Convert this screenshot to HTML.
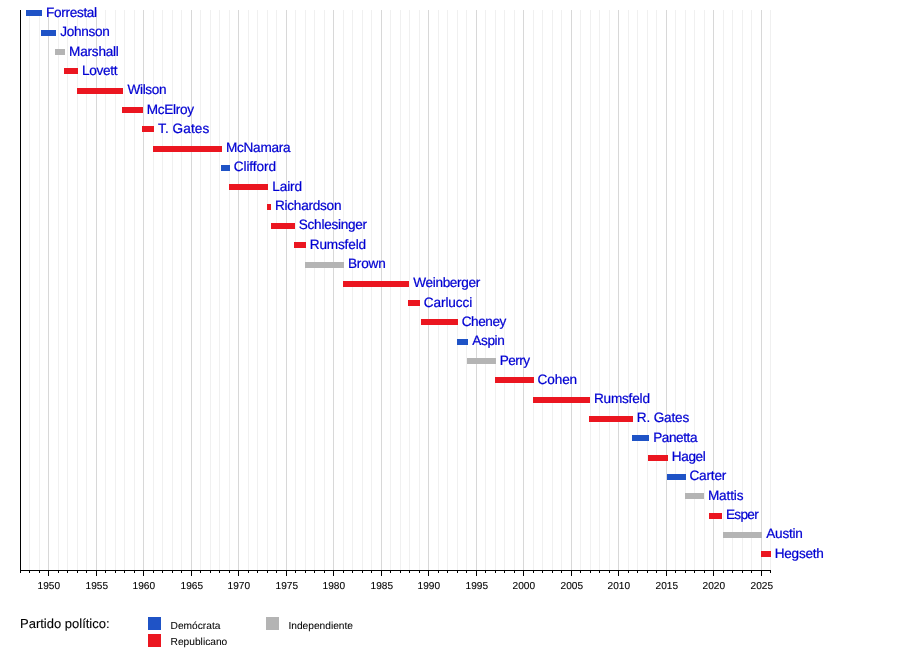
<!DOCTYPE html>
<html><head><meta charset="utf-8"><title>Secretarios de Defensa</title>
<style>
html,body{margin:0;padding:0;background:#fff;}
body{width:900px;height:650px;overflow:hidden;}
svg{display:block;will-change:transform;}
text{font-family:"Liberation Sans",sans-serif;-webkit-font-smoothing:antialiased;text-rendering:geometricPrecision;}
.lb{font-size:13.6px;fill:#0000d2;stroke:#0000d2;stroke-width:0.22;}
.tk{font-size:10.1px;fill:#000000;stroke:#000000;stroke-width:0.1;text-anchor:middle;}
.lg{font-size:10.2px;fill:#000000;stroke:#000000;stroke-width:0.05;}
.lt{font-size:13px;fill:#000000;stroke:#000000;stroke-width:0.1;}
</style></head><body>
<svg width="900" height="650" viewBox="0 0 900 650">
<rect x="0" y="0" width="900" height="650" fill="#ffffff"/>

<g shape-rendering="crispEdges">
<rect x="29" y="10" width="1" height="560" fill="#f0f0f0"/>
<rect x="39" y="10" width="1" height="560" fill="#f0f0f0"/>
<rect x="48" y="10" width="1" height="560" fill="#d8d8d8"/>
<rect x="58" y="10" width="1" height="560" fill="#f0f0f0"/>
<rect x="67" y="10" width="1" height="560" fill="#f0f0f0"/>
<rect x="77" y="10" width="1" height="560" fill="#f0f0f0"/>
<rect x="86" y="10" width="1" height="560" fill="#f0f0f0"/>
<rect x="96" y="10" width="1" height="560" fill="#d8d8d8"/>
<rect x="105" y="10" width="1" height="560" fill="#f0f0f0"/>
<rect x="115" y="10" width="1" height="560" fill="#f0f0f0"/>
<rect x="124" y="10" width="1" height="560" fill="#f0f0f0"/>
<rect x="134" y="10" width="1" height="560" fill="#f0f0f0"/>
<rect x="143" y="10" width="1" height="560" fill="#d8d8d8"/>
<rect x="153" y="10" width="1" height="560" fill="#f0f0f0"/>
<rect x="162" y="10" width="1" height="560" fill="#f0f0f0"/>
<rect x="172" y="10" width="1" height="560" fill="#f0f0f0"/>
<rect x="181" y="10" width="1" height="560" fill="#f0f0f0"/>
<rect x="191" y="10" width="1" height="560" fill="#d8d8d8"/>
<rect x="200" y="10" width="1" height="560" fill="#f0f0f0"/>
<rect x="210" y="10" width="1" height="560" fill="#f0f0f0"/>
<rect x="219" y="10" width="1" height="560" fill="#f0f0f0"/>
<rect x="229" y="10" width="1" height="560" fill="#f0f0f0"/>
<rect x="238" y="10" width="1" height="560" fill="#d8d8d8"/>
<rect x="248" y="10" width="1" height="560" fill="#f0f0f0"/>
<rect x="257" y="10" width="1" height="560" fill="#f0f0f0"/>
<rect x="267" y="10" width="1" height="560" fill="#f0f0f0"/>
<rect x="276" y="10" width="1" height="560" fill="#f0f0f0"/>
<rect x="286" y="10" width="1" height="560" fill="#d8d8d8"/>
<rect x="295" y="10" width="1" height="560" fill="#f0f0f0"/>
<rect x="305" y="10" width="1" height="560" fill="#f0f0f0"/>
<rect x="314" y="10" width="1" height="560" fill="#f0f0f0"/>
<rect x="324" y="10" width="1" height="560" fill="#f0f0f0"/>
<rect x="333" y="10" width="1" height="560" fill="#d8d8d8"/>
<rect x="343" y="10" width="1" height="560" fill="#f0f0f0"/>
<rect x="352" y="10" width="1" height="560" fill="#f0f0f0"/>
<rect x="362" y="10" width="1" height="560" fill="#f0f0f0"/>
<rect x="371" y="10" width="1" height="560" fill="#f0f0f0"/>
<rect x="381" y="10" width="1" height="560" fill="#d8d8d8"/>
<rect x="390" y="10" width="1" height="560" fill="#f0f0f0"/>
<rect x="400" y="10" width="1" height="560" fill="#f0f0f0"/>
<rect x="409" y="10" width="1" height="560" fill="#f0f0f0"/>
<rect x="419" y="10" width="1" height="560" fill="#f0f0f0"/>
<rect x="428" y="10" width="1" height="560" fill="#d8d8d8"/>
<rect x="438" y="10" width="1" height="560" fill="#f0f0f0"/>
<rect x="447" y="10" width="1" height="560" fill="#f0f0f0"/>
<rect x="457" y="10" width="1" height="560" fill="#f0f0f0"/>
<rect x="466" y="10" width="1" height="560" fill="#f0f0f0"/>
<rect x="476" y="10" width="1" height="560" fill="#d8d8d8"/>
<rect x="485" y="10" width="1" height="560" fill="#f0f0f0"/>
<rect x="495" y="10" width="1" height="560" fill="#f0f0f0"/>
<rect x="504" y="10" width="1" height="560" fill="#f0f0f0"/>
<rect x="514" y="10" width="1" height="560" fill="#f0f0f0"/>
<rect x="523" y="10" width="1" height="560" fill="#d8d8d8"/>
<rect x="533" y="10" width="1" height="560" fill="#f0f0f0"/>
<rect x="542" y="10" width="1" height="560" fill="#f0f0f0"/>
<rect x="552" y="10" width="1" height="560" fill="#f0f0f0"/>
<rect x="561" y="10" width="1" height="560" fill="#f0f0f0"/>
<rect x="571" y="10" width="1" height="560" fill="#d8d8d8"/>
<rect x="580" y="10" width="1" height="560" fill="#f0f0f0"/>
<rect x="590" y="10" width="1" height="560" fill="#f0f0f0"/>
<rect x="599" y="10" width="1" height="560" fill="#f0f0f0"/>
<rect x="609" y="10" width="1" height="560" fill="#f0f0f0"/>
<rect x="618" y="10" width="1" height="560" fill="#d8d8d8"/>
<rect x="628" y="10" width="1" height="560" fill="#f0f0f0"/>
<rect x="637" y="10" width="1" height="560" fill="#f0f0f0"/>
<rect x="647" y="10" width="1" height="560" fill="#f0f0f0"/>
<rect x="656" y="10" width="1" height="560" fill="#f0f0f0"/>
<rect x="666" y="10" width="1" height="560" fill="#d8d8d8"/>
<rect x="675" y="10" width="1" height="560" fill="#f0f0f0"/>
<rect x="685" y="10" width="1" height="560" fill="#f0f0f0"/>
<rect x="694" y="10" width="1" height="560" fill="#f0f0f0"/>
<rect x="704" y="10" width="1" height="560" fill="#f0f0f0"/>
<rect x="713" y="10" width="1" height="560" fill="#d8d8d8"/>
<rect x="723" y="10" width="1" height="560" fill="#f0f0f0"/>
<rect x="732" y="10" width="1" height="560" fill="#f0f0f0"/>
<rect x="742" y="10" width="1" height="560" fill="#f0f0f0"/>
<rect x="751" y="10" width="1" height="560" fill="#f0f0f0"/>
<rect x="761" y="10" width="1" height="560" fill="#d8d8d8"/>
<rect x="770" y="10" width="1" height="560" fill="#f0f0f0"/>
<rect x="26" y="10" width="16" height="6" fill="#1f53c6"/>
<rect x="41" y="30" width="15" height="6" fill="#1f53c6"/>
<rect x="55" y="49" width="10" height="6" fill="#b4b4b4"/>
<rect x="64" y="68" width="14" height="6" fill="#eb1620"/>
<rect x="77" y="88" width="46" height="6" fill="#eb1620"/>
<rect x="122" y="107" width="21" height="6" fill="#eb1620"/>
<rect x="142" y="126" width="12" height="6" fill="#eb1620"/>
<rect x="153" y="146" width="69" height="6" fill="#eb1620"/>
<rect x="221" y="165" width="9" height="6" fill="#1f53c6"/>
<rect x="229" y="184" width="39" height="6" fill="#eb1620"/>
<rect x="267" y="204" width="4" height="6" fill="#eb1620"/>
<rect x="271" y="223" width="24" height="6" fill="#eb1620"/>
<rect x="294" y="242" width="12" height="6" fill="#eb1620"/>
<rect x="305" y="262" width="39" height="6" fill="#b4b4b4"/>
<rect x="343" y="281" width="66" height="6" fill="#eb1620"/>
<rect x="408" y="300" width="12" height="6" fill="#eb1620"/>
<rect x="421" y="319" width="37" height="6" fill="#eb1620"/>
<rect x="457" y="339" width="11" height="6" fill="#1f53c6"/>
<rect x="467" y="358" width="29" height="6" fill="#b4b4b4"/>
<rect x="495" y="377" width="39" height="6" fill="#eb1620"/>
<rect x="533" y="397" width="57" height="6" fill="#eb1620"/>
<rect x="589" y="416" width="44" height="6" fill="#eb1620"/>
<rect x="632" y="435" width="17" height="6" fill="#1f53c6"/>
<rect x="648" y="455" width="20" height="6" fill="#eb1620"/>
<rect x="667" y="474" width="19" height="6" fill="#1f53c6"/>
<rect x="685" y="493" width="19" height="6" fill="#b4b4b4"/>
<rect x="709" y="513" width="13" height="6" fill="#eb1620"/>
<rect x="723" y="532" width="39" height="6" fill="#b4b4b4"/>
<rect x="761" y="551" width="10" height="6" fill="#eb1620"/>
<rect x="20" y="10" width="1" height="561" fill="#000"/>
<rect x="20" y="570" width="751" height="1" fill="#000"/>
<rect x="20" y="571" width="1" height="2" fill="#000"/>
<rect x="29" y="571" width="1" height="2" fill="#000"/>
<rect x="39" y="571" width="1" height="2" fill="#000"/>
<rect x="48" y="571" width="1" height="5" fill="#000"/>
<rect x="58" y="571" width="1" height="2" fill="#000"/>
<rect x="67" y="571" width="1" height="2" fill="#000"/>
<rect x="77" y="571" width="1" height="2" fill="#000"/>
<rect x="86" y="571" width="1" height="2" fill="#000"/>
<rect x="96" y="571" width="1" height="5" fill="#000"/>
<rect x="105" y="571" width="1" height="2" fill="#000"/>
<rect x="115" y="571" width="1" height="2" fill="#000"/>
<rect x="124" y="571" width="1" height="2" fill="#000"/>
<rect x="134" y="571" width="1" height="2" fill="#000"/>
<rect x="143" y="571" width="1" height="5" fill="#000"/>
<rect x="153" y="571" width="1" height="2" fill="#000"/>
<rect x="162" y="571" width="1" height="2" fill="#000"/>
<rect x="172" y="571" width="1" height="2" fill="#000"/>
<rect x="181" y="571" width="1" height="2" fill="#000"/>
<rect x="191" y="571" width="1" height="5" fill="#000"/>
<rect x="200" y="571" width="1" height="2" fill="#000"/>
<rect x="210" y="571" width="1" height="2" fill="#000"/>
<rect x="219" y="571" width="1" height="2" fill="#000"/>
<rect x="229" y="571" width="1" height="2" fill="#000"/>
<rect x="238" y="571" width="1" height="5" fill="#000"/>
<rect x="248" y="571" width="1" height="2" fill="#000"/>
<rect x="257" y="571" width="1" height="2" fill="#000"/>
<rect x="267" y="571" width="1" height="2" fill="#000"/>
<rect x="276" y="571" width="1" height="2" fill="#000"/>
<rect x="286" y="571" width="1" height="5" fill="#000"/>
<rect x="295" y="571" width="1" height="2" fill="#000"/>
<rect x="305" y="571" width="1" height="2" fill="#000"/>
<rect x="314" y="571" width="1" height="2" fill="#000"/>
<rect x="324" y="571" width="1" height="2" fill="#000"/>
<rect x="333" y="571" width="1" height="5" fill="#000"/>
<rect x="343" y="571" width="1" height="2" fill="#000"/>
<rect x="352" y="571" width="1" height="2" fill="#000"/>
<rect x="362" y="571" width="1" height="2" fill="#000"/>
<rect x="371" y="571" width="1" height="2" fill="#000"/>
<rect x="381" y="571" width="1" height="5" fill="#000"/>
<rect x="390" y="571" width="1" height="2" fill="#000"/>
<rect x="400" y="571" width="1" height="2" fill="#000"/>
<rect x="409" y="571" width="1" height="2" fill="#000"/>
<rect x="419" y="571" width="1" height="2" fill="#000"/>
<rect x="428" y="571" width="1" height="5" fill="#000"/>
<rect x="438" y="571" width="1" height="2" fill="#000"/>
<rect x="447" y="571" width="1" height="2" fill="#000"/>
<rect x="457" y="571" width="1" height="2" fill="#000"/>
<rect x="466" y="571" width="1" height="2" fill="#000"/>
<rect x="476" y="571" width="1" height="5" fill="#000"/>
<rect x="485" y="571" width="1" height="2" fill="#000"/>
<rect x="495" y="571" width="1" height="2" fill="#000"/>
<rect x="504" y="571" width="1" height="2" fill="#000"/>
<rect x="514" y="571" width="1" height="2" fill="#000"/>
<rect x="523" y="571" width="1" height="5" fill="#000"/>
<rect x="533" y="571" width="1" height="2" fill="#000"/>
<rect x="542" y="571" width="1" height="2" fill="#000"/>
<rect x="552" y="571" width="1" height="2" fill="#000"/>
<rect x="561" y="571" width="1" height="2" fill="#000"/>
<rect x="571" y="571" width="1" height="5" fill="#000"/>
<rect x="580" y="571" width="1" height="2" fill="#000"/>
<rect x="590" y="571" width="1" height="2" fill="#000"/>
<rect x="599" y="571" width="1" height="2" fill="#000"/>
<rect x="609" y="571" width="1" height="2" fill="#000"/>
<rect x="618" y="571" width="1" height="5" fill="#000"/>
<rect x="628" y="571" width="1" height="2" fill="#000"/>
<rect x="637" y="571" width="1" height="2" fill="#000"/>
<rect x="647" y="571" width="1" height="2" fill="#000"/>
<rect x="656" y="571" width="1" height="2" fill="#000"/>
<rect x="666" y="571" width="1" height="5" fill="#000"/>
<rect x="675" y="571" width="1" height="2" fill="#000"/>
<rect x="685" y="571" width="1" height="2" fill="#000"/>
<rect x="694" y="571" width="1" height="2" fill="#000"/>
<rect x="704" y="571" width="1" height="2" fill="#000"/>
<rect x="713" y="571" width="1" height="5" fill="#000"/>
<rect x="723" y="571" width="1" height="2" fill="#000"/>
<rect x="732" y="571" width="1" height="2" fill="#000"/>
<rect x="742" y="571" width="1" height="2" fill="#000"/>
<rect x="751" y="571" width="1" height="2" fill="#000"/>
<rect x="761" y="571" width="1" height="5" fill="#000"/>
<rect x="770" y="571" width="1" height="2" fill="#000"/>
<rect x="148" y="617" width="13" height="13" fill="#1f53c6"/>
<rect x="148" y="634" width="13" height="13" fill="#eb1620"/>
<rect x="266" y="617" width="13" height="13" fill="#b4b4b4"/>
</g>
<text class="lb" x="46.10" y="16.90" textLength="50.99" lengthAdjust="spacing">Forrestal</text>
<text class="lb" x="60.33" y="35.90" textLength="49.48" lengthAdjust="spacing">Johnson</text>
<text class="lb" x="69.12" y="55.90" textLength="49.73" lengthAdjust="spacing">Marshall</text>
<text class="lb" x="82.10" y="74.90" textLength="35.47" lengthAdjust="spacing">Lovett</text>
<text class="lb" x="127.56" y="93.90" textLength="38.95" lengthAdjust="spacing">Wilson</text>
<text class="lb" x="146.71" y="113.90" textLength="47.41" lengthAdjust="spacing">McElroy</text>
<text class="lb" x="158.02" y="132.90" textLength="51.18" lengthAdjust="spacing">T. Gates</text>
<text class="lb" x="225.91" y="151.90" textLength="64.67" lengthAdjust="spacing">McNamara</text>
<text class="lb" x="233.71" y="170.90" textLength="42.24" lengthAdjust="spacing">Clifford</text>
<text class="lb" x="272.14" y="190.90" textLength="30.01" lengthAdjust="spacing">Laird</text>
<text class="lb" x="274.94" y="209.90" textLength="66.55" lengthAdjust="spacing">Richardson</text>
<text class="lb" x="298.78" y="228.90" textLength="68.31" lengthAdjust="spacing">Schlesinger</text>
<text class="lb" x="309.71" y="248.90" textLength="56.39" lengthAdjust="spacing">Rumsfeld</text>
<text class="lb" x="347.91" y="267.90" textLength="37.81" lengthAdjust="spacing">Brown</text>
<text class="lb" x="413.25" y="286.90" textLength="66.98" lengthAdjust="spacing">Weinberger</text>
<text class="lb" x="423.71" y="306.90" textLength="48.58" lengthAdjust="spacing">Carlucci</text>
<text class="lb" x="461.71" y="325.90" textLength="44.59" lengthAdjust="spacing">Cheney</text>
<text class="lb" x="472.27" y="344.90" textLength="32.53" lengthAdjust="spacing">Aspin</text>
<text class="lb" x="499.71" y="364.90" textLength="30.33" lengthAdjust="spacing">Perry</text>
<text class="lb" x="537.45" y="383.90" textLength="39.73" lengthAdjust="spacing">Cohen</text>
<text class="lb" x="593.91" y="402.90" textLength="56.03" lengthAdjust="spacing">Rumsfeld</text>
<text class="lb" x="636.85" y="421.90" textLength="52.37" lengthAdjust="spacing">R. Gates</text>
<text class="lb" x="653.14" y="441.90" textLength="44.40" lengthAdjust="spacing">Panetta</text>
<text class="lb" x="671.71" y="460.90" textLength="34.10" lengthAdjust="spacing">Hagel</text>
<text class="lb" x="689.45" y="479.90" textLength="36.91" lengthAdjust="spacing">Carter</text>
<text class="lb" x="707.91" y="499.90" textLength="35.59" lengthAdjust="spacing">Mattis</text>
<text class="lb" x="725.91" y="518.90" textLength="32.81" lengthAdjust="spacing">Esper</text>
<text class="lb" x="766.27" y="537.90" textLength="36.50" lengthAdjust="spacing">Austin</text>
<text class="lb" x="774.71" y="557.90" textLength="49.15" lengthAdjust="spacing">Hegseth</text>
<text class="tk" x="48.8" y="589">1950</text>
<text class="tk" x="96.8" y="589">1955</text>
<text class="tk" x="143.8" y="589">1960</text>
<text class="tk" x="191.8" y="589">1965</text>
<text class="tk" x="238.8" y="589">1970</text>
<text class="tk" x="286.8" y="589">1975</text>
<text class="tk" x="333.8" y="589">1980</text>
<text class="tk" x="381.8" y="589">1985</text>
<text class="tk" x="428.8" y="589">1990</text>
<text class="tk" x="476.8" y="589">1995</text>
<text class="tk" x="523.8" y="589">2000</text>
<text class="tk" x="571.8" y="589">2005</text>
<text class="tk" x="618.8" y="589">2010</text>
<text class="tk" x="666.8" y="589">2015</text>
<text class="tk" x="713.8" y="589">2020</text>
<text class="tk" x="761.8" y="589">2025</text>
<text class="lt" x="20" y="627.5">Partido político:</text>
<text class="lg" x="170.6" y="628.7">Demócrata</text>
<text class="lg" x="170.6" y="645.4">Republicano</text>
<text class="lg" x="288.4" y="628.7">Independiente</text>
</svg></body></html>
